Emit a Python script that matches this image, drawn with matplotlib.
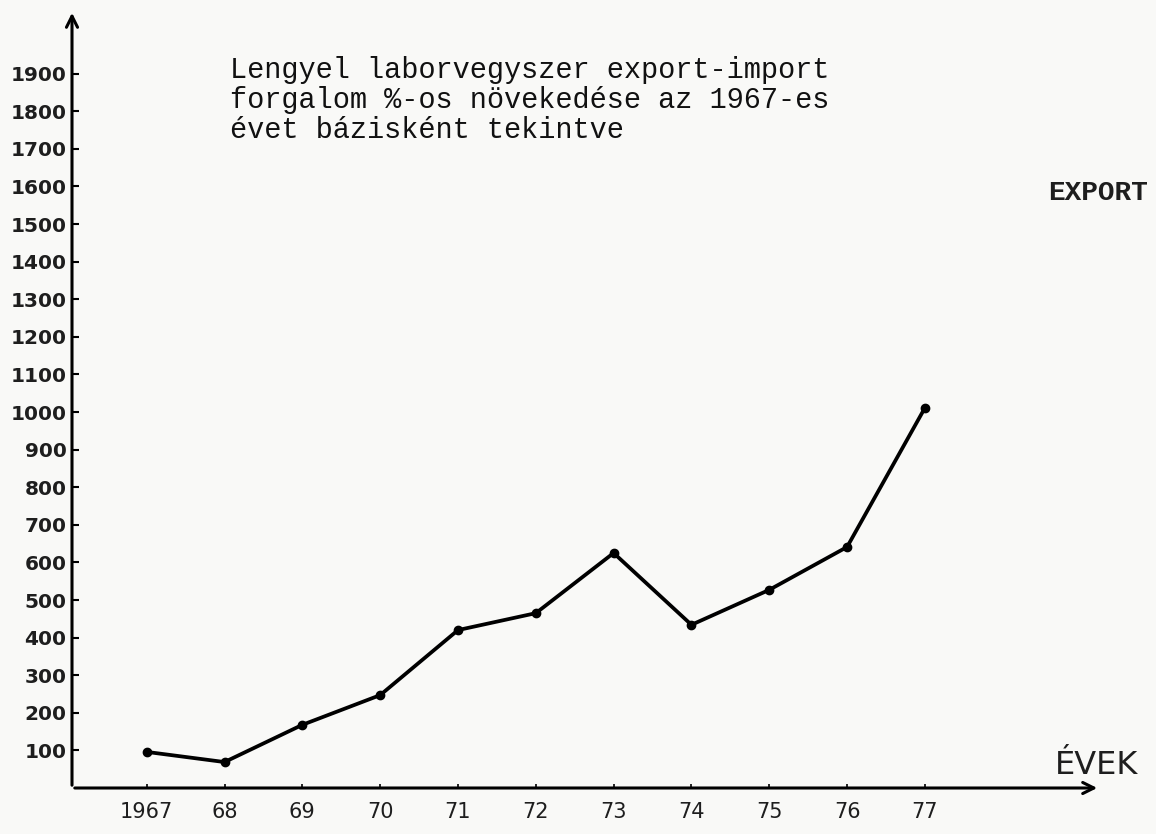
import matplotlib
matplotlib.use('Agg')
import matplotlib.pyplot as plt

# export growth, % of 1967 level
years = [1967, 1968, 1969, 1970, 1971, 1972, 1973, 1974, 1975, 1976, 1977]
year_labels = ['1967', '68', '69', '70', '71', '72', '73', '74', '75', '76', '77']
export_pct = [96, 69, 168, 247, 420, 465, 625, 434, 527, 641, 1011]
y_ticks = list(range(100, 2000, 100))

title_lines = ['Lengyel laborvegyszer export-import',
               'forgalom %-os növekedése az 1967-es',
               'évet bázisként tekintve']

W, H = 1156, 834
fig = plt.figure(figsize=(W / 100, H / 100), dpi=100, facecolor='#f9f9f7')

# axes placed so the drawn axis lines sit where the paper has them
x0, y0, x1, y1 = 72, 788, 1100, 10
ax = fig.add_axes([x0 / W, (H - y0) / H, (x1 - x0) / W, (y0 - y1) / H])
ax.set_facecolor('none')

ax.set_xlim(1966.04, 1979.25)
ax.set_ylim(0, (y0 - y1) / 0.376)

ax.plot(years, export_pct, color='black', lw=2.7, marker='o', markersize=6,
        solid_joinstyle='round', clip_on=False, zorder=3)

for s in ax.spines.values():
    s.set_visible(False)

# axes drawn as arrows
ax.annotate('', xy=(1.0, 0), xytext=(0, 0), xycoords='axes fraction',
            arrowprops=dict(arrowstyle='->,head_length=0.8,head_width=0.4', lw=2.2, color='black'))
ax.annotate('', xy=(0, 1.0), xytext=(0, 0), xycoords='axes fraction',
            arrowprops=dict(arrowstyle='->,head_length=0.8,head_width=0.4', lw=2.2, color='black'))

ax.set_yticks(y_ticks)
ax.set_yticklabels([str(v) for v in y_ticks], fontsize=14.5, fontweight='bold', color='#1e1e1e')
ax.tick_params(axis='y', direction='in', length=5, width=1.5, pad=4)

ax.set_xticks(years)
ax.set_xticklabels(year_labels, fontsize=15, color='#1e1e1e')
ax.tick_params(axis='x', direction='in', length=3, width=1.2, pad=10)

mono = 'Liberation Mono'
for i, line in enumerate(title_lines):
    fig.text(230 / W, 1 - (70 + i * 30) / H, line, family=mono, fontsize=20.6,
             color='#111111', va='center', ha='left')

fig.text(1048 / W, 1 - 193 / H, 'EXPORT', family=mono, fontsize=20,
         fontweight='bold', color='#1e1e1e', va='center', ha='left')

fig.text(1055 / W, 1 - 765 / H, 'ÉVEK', family='DejaVu Sans', fontsize=23,
         color='#1e1e1e', va='center', ha='left')

fig.savefig('out.png', dpi=100, facecolor=fig.get_facecolor())
